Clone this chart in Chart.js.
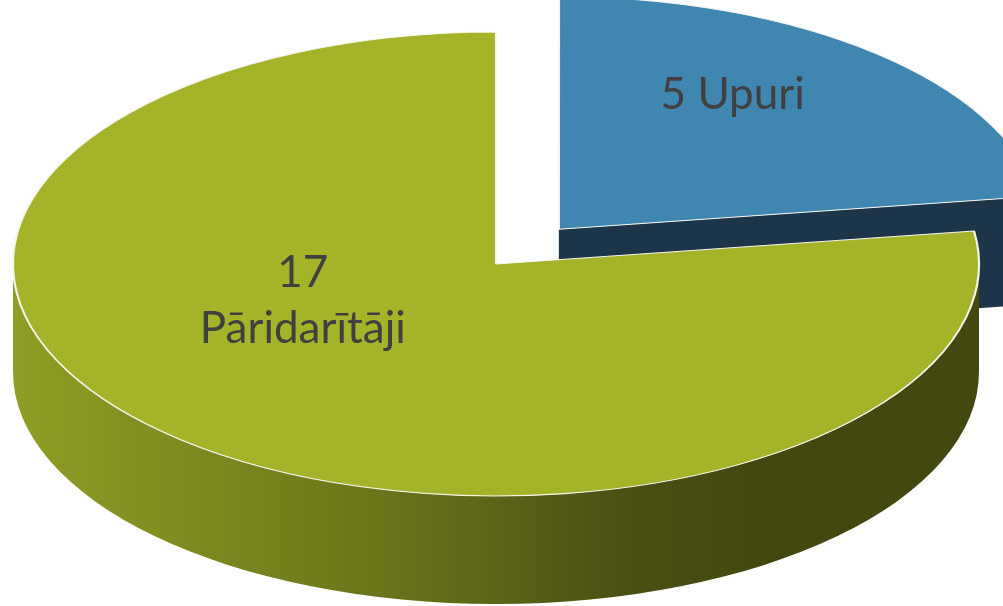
<!DOCTYPE html>
<html><head><meta charset="utf-8">
<script src="https://cdn.jsdelivr.net/npm/chart.js@4.4.1/dist/chart.umd.min.js"></script>
<style>html,body{margin:0;padding:0;background:#fff;overflow:hidden}canvas{display:block}</style>
</head><body>
<canvas id="c" width="1003" height="606"></canvas>
<script>
// ---- data ----
const categories = ['Upuri', 'Pāridarītāji'];
const values = [5, 17];
const labelLines = [['5 Upuri'], ['17', 'Pāridarītāji']];
const topColors = ['#3f86b1', '#a4b328'];
const sideColors = ['#1c3549', '#434810'];

// ---- view (3D projection) ----
const VIEW = {cx: 496, cy: 264, rx: 483, ry: 232, depth: 108, explode: 96};
const BASE_R = 290;
const offsets = values.map((v, i) => i === 0 ? 4 * VIEW.explode * BASE_R / VIEW.rx : 0);

function geom(chart) {
  const meta = chart.getDatasetMeta(0);
  const a0 = meta.data[0];
  const R = a0.outerRadius;
  return {meta, R, cx: a0.x, cy: a0.y, sx: VIEW.rx / R, sy: VIEW.ry / R};
}
function apexOf(g, arc) {
  const off = (arc.options.offset || 0) / 4;
  const h = (arc.startAngle + arc.endAngle) / 2;
  const x = arc.x + Math.cos(h) * off, y = arc.y + Math.sin(h) * off;
  return [VIEW.cx + (x - g.cx) * g.sx, VIEW.cy + (y - g.cy) * g.sy];
}

const pie3d = {
  id: 'pie3d',
  beforeDatasetsDraw(chart, args, opts) {
    const ctx = chart.ctx;
    const g = geom(chart);
    const D = VIEW.depth;
    g.meta.data.forEach((arc, i) => {
      const pc = apexOf(g, arc);
      const s = arc.startAngle, e = arc.endAngle;
      ctx.save();
      let fill = sideColors[i];
      if (i === 1) {
        const gr = ctx.createLinearGradient(pc[0] - VIEW.rx, 0, pc[0] + VIEW.rx, 0);
        gr.addColorStop(0, '#8f9e24');
        gr.addColorStop(0.38, '#6b751a');
        gr.addColorStop(0.63, '#4b5114');
        gr.addColorStop(0.78, '#434810');
        gr.addColorStop(1, '#434810');
        fill = gr;
      }
      ctx.fillStyle = fill;
      const face = (t) => {
        const px = pc[0] + VIEW.rx * Math.cos(t), py = pc[1] + VIEW.ry * Math.sin(t);
        ctx.beginPath();
        ctx.moveTo(pc[0], pc[1]);
        ctx.lineTo(px, py);
        ctx.lineTo(px, py + D);
        ctx.lineTo(pc[0], pc[1] + D);
        ctx.closePath();
        ctx.fill();
      };
      if (-Math.cos(s) > 0.01) face(s);
      if (Math.cos(e) > 0.01) face(e);
      const t0 = Math.max(s, 0), t1 = Math.min(e, Math.PI);
      if (t1 > t0) {
        ctx.beginPath();
        ctx.ellipse(pc[0], pc[1], VIEW.rx, VIEW.ry, 0, t0, t1, false);
        ctx.ellipse(pc[0], pc[1] + D, VIEW.rx, VIEW.ry, 0, t1, t0, true);
        ctx.closePath();
        ctx.fill();
      }
      ctx.restore();
    });
    ctx.save();
    ctx.translate(VIEW.cx, VIEW.cy);
    ctx.scale(g.sx, g.sy);
    ctx.translate(-g.cx, -g.cy);
  },
  afterDatasetsDraw(chart, args, opts) {
    const ctx = chart.ctx;
    ctx.restore();
    const g = geom(chart);
    ctx.save();
    ctx.fillStyle = '#404040';
    ctx.font = opts.font;
    ctx.textAlign = 'center';
    ctx.textBaseline = 'alphabetic';
    g.meta.data.forEach((arc, i) => {
      const pc = apexOf(g, arc);
      const a = opts.anchors[i];
      const x = pc[0] + a[0] * VIEW.rx;
      const y = pc[1] + a[1] * VIEW.ry;
      labelLines[i].forEach((ln, k) => {
        ctx.fillText(ln, x, y + k * opts.lineHeight);
      });
    });
    ctx.restore();
  }
};

new Chart(document.getElementById('c'), {
  type: 'pie',
  data: {
    labels: categories,
    datasets: [{
      data: values,
      backgroundColor: topColors,
      borderColor: '#f4f6ee',
      borderWidth: 1.3,
      offset: offsets,
      radius: BASE_R,
      clip: false
    }]
  },
  options: {
    responsive: false,
    animation: false,
    events: [],
    layout: {padding: 0},
    plugins: {
      legend: {display: false},
      tooltip: {enabled: false},
      pie3d: {font: '44px Lato', lineHeight: 56, anchors: [[0.36, -0.52], [-0.40, 0.10]]}
    }
  },
  plugins: [pie3d]
});
</script>
</body></html>
